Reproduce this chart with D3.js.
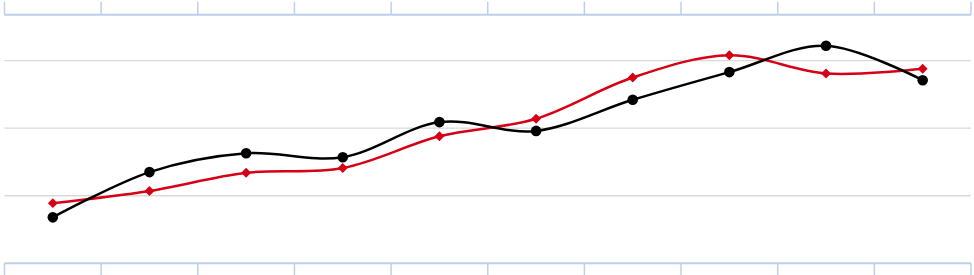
<!DOCTYPE html>
<html>
<head>
<meta charset="utf-8">
<script src="https://cdn.jsdelivr.net/npm/d3@7"></script>
<style>
  html, body { margin: 0; padding: 0; background: #fff; }
  svg { display: block; }
</style>
</head>
<body>
<svg width="974" height="275"></svg>
<script>
// categories (no labels shown in the chart)
const categories = ["1", "2", "3", "4", "5", "6", "7", "8", "9", "10"];
// black series (circles)
const blackValues = [0.68, 1.35, 1.63, 1.57, 2.09, 1.96, 2.42, 2.83, 3.22, 2.71];
// red series (diamonds)
const redValues = [0.89, 1.07, 1.34, 1.41, 1.88, 2.14, 2.75, 3.08, 2.81, 2.88];
// horizontal gridlines
const gridTicks = [1, 2, 3];

const svg = d3.select("svg");
const width = +svg.attr("width");
const height = +svg.attr("height");

const margin = { top: 14.7, right: 3, bottom: 11.7, left: 4.5 };
const innerWidth = width - margin.left - margin.right;
const innerHeight = height - margin.top - margin.bottom;

const xScale = d3.scaleBand()
  .domain(categories)
  .range([0, innerWidth]);

const yScale = d3.scaleLinear()
  .domain([0, 3.68])
  .range([innerHeight, 0]);

const g = svg.append("g")
  .attr("transform", `translate(${margin.left},${margin.top})`);

// gridlines
g.append("g")
  .selectAll("line")
  .data(gridTicks)
  .enter()
  .append("line")
  .attr("x1", 0)
  .attr("x2", innerWidth)
  .attr("y1", d => yScale(d))
  .attr("y2", d => yScale(d))
  .attr("stroke", "#d9d9d9")
  .attr("stroke-width", 1.3);

// band boundaries for tick marks
const boundaries = categories.map(c => xScale(c)).concat([innerWidth]);
const axisColor = "#bdd0e7";

// top axis (ticks pointing up)
const topAxis = g.append("g");
topAxis.append("line")
  .attr("x1", 0).attr("x2", innerWidth)
  .attr("y1", 0).attr("y2", 0)
  .attr("stroke", axisColor).attr("stroke-width", 2);
topAxis.selectAll(".tick")
  .data(boundaries)
  .enter()
  .append("line")
  .attr("x1", d => d).attr("x2", d => d)
  .attr("y1", 0).attr("y2", -13)
  .attr("stroke", axisColor).attr("stroke-width", 1.5);

// bottom axis (ticks pointing down)
const bottomAxis = g.append("g").attr("transform", `translate(0,${innerHeight})`);
bottomAxis.append("line")
  .attr("x1", 0).attr("x2", innerWidth)
  .attr("y1", 0).attr("y2", 0)
  .attr("stroke", axisColor).attr("stroke-width", 2);
bottomAxis.selectAll(".tick")
  .data(boundaries)
  .enter()
  .append("line")
  .attr("x1", d => d).attr("x2", d => d)
  .attr("y1", 0).attr("y2", 13)
  .attr("stroke", axisColor).attr("stroke-width", 1.5);

const xPos = (d, i) => xScale(categories[i]) + xScale.bandwidth() / 2;

const line = d3.line()
  .x(xPos)
  .y(d => yScale(d))
  .curve(d3.curveCardinal.tension(0));

// red series
g.append("path")
  .datum(redValues)
  .attr("fill", "none")
  .attr("stroke", "#d60016")
  .attr("stroke-width", 2.5)
  .attr("d", line);

g.selectAll(".red-marker")
  .data(redValues)
  .enter()
  .append("path")
  .attr("class", "red-marker")
  .attr("d", d3.symbol().type(d3.symbolDiamond2).size(62))
  .attr("transform", (d, i) => `translate(${xPos(d, i)},${yScale(d)})`)
  .attr("fill", "#d60016");

// black series
g.append("path")
  .datum(blackValues)
  .attr("fill", "none")
  .attr("stroke", "#000")
  .attr("stroke-width", 2.5)
  .attr("d", line);

g.selectAll(".black-marker")
  .data(blackValues)
  .enter()
  .append("circle")
  .attr("class", "black-marker")
  .attr("cx", xPos)
  .attr("cy", d => yScale(d))
  .attr("r", 5.3)
  .attr("fill", "#000");
</script>
</body>
</html>
